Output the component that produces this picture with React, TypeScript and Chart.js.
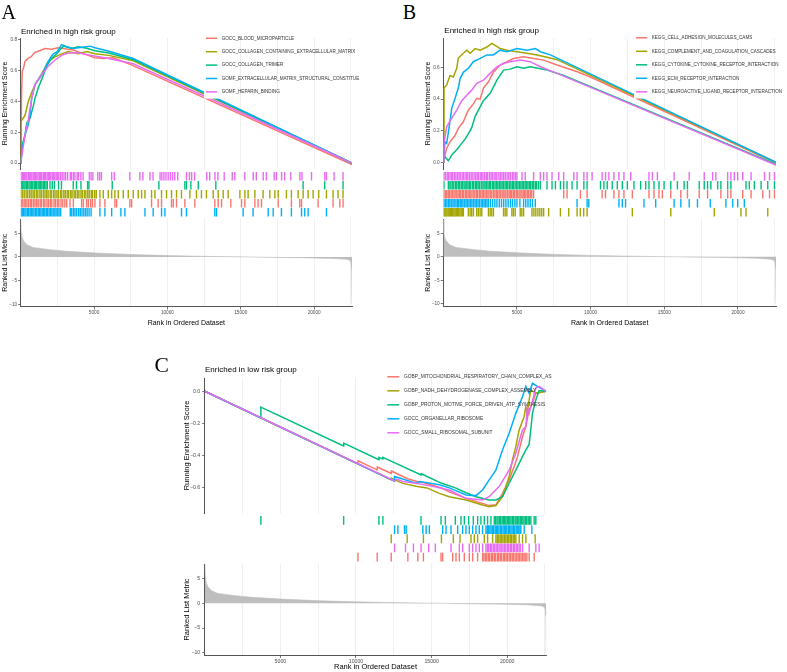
import React, { useEffect, useRef } from "react";
import { Chart, registerables } from "chart.js";

Chart.register(...registerables);

const SANS = '"Liberation Sans", Arial, Helvetica, sans-serif';
const SERIF = '"Liberation Serif", "Times New Roman", serif';

const RED = "#F8766D";
const OLIVE = "#A3A500";
const GREEN = "#00BF7D";
const BLUE = "#00B0F6";
const MAGENTA = "#E76BF3";

// ---------- shared axis values ----------
const RANK_MAX = 22580;
const X_GRID_BREAKS = [2500, 5000, 7500, 10000, 12500, 15000, 17500, 20000, 22500];
const X_TICK_BREAKS = [5000, 10000, 15000, 20000];
const X_TICK_LABELS = ["5000", "10000", "15000", "20000"];
const METRIC_TICKS = [-10, -5, 0, 5];
const ES_TICKS_A = [0, 0.2, 0.4, 0.6, 0.8];
const ES_TICKS_B = [0, 0.2, 0.4, 0.6];
const ES_TICKS_C = [-0.6, -0.4, -0.2, 0];

// ranked list metric (rank, metric)
const rankedMetric = [
  [1, 7.9], [40, 5.2], [100, 4.1], [200, 3.4], [420, 2.6], [860, 2.0], [2000, 1.55],
  [3130, 1.2], [5400, 0.8], [7670, 0.5], [9950, 0.3], [12210, 0.15], [14480, 0.05],
  [15800, 0], [16760, -0.07], [19030, -0.15], [21300, -0.3], [22200, -0.5],
  [22430, -0.7], [22520, -1.2], [22560, -2.5], [22580, -9.9],
];

// ---------- Panel A: enriched in high risk group (GO) ----------
const namesA = [
  "GOCC_BLOOD_MICROPARTICLE",
  "GOCC_COLLAGEN_CONTAINING_EXTRACELLULAR_MATRIX",
  "GOCC_COLLAGEN_TRIMER",
  "GOMF_EXTRACELLULAR_MATRIX_STRUCTURAL_CONSTITUE",
  "GOMF_HEPARIN_BINDING",
];

const esA_blood = [
  [1, 0], [60, 0.45], [110, 0.6], [200, 0.62], [290, 0.66], [500, 0.68], [700, 0.69],
  [975, 0.72], [1300, 0.73], [1655, 0.745], [2100, 0.74], [2540, 0.75], [2900, 0.745],
  [3220, 0.74], [3600, 0.735], [4175, 0.713], [4600, 0.7], [5060, 0.685], [5600, 0.68],
  [6300, 0.685], [7500, 0.64], [22580, -0.01],
];
const esA_collagenEcm = [
  [1, 0], [20, 0.27], [290, 0.31], [520, 0.4], [750, 0.46], [1090, 0.53], [1430, 0.58],
  [1880, 0.66], [2340, 0.69], [2790, 0.71], [3240, 0.725], [3920, 0.71], [4500, 0.725],
  [5060, 0.71], [6000, 0.7], [7670, 0.665], [22580, 0],
];
const esA_trimer = [
  [1, 0], [20, 0.01], [110, 0.12], [290, 0.18], [410, 0.26], [630, 0.29], [860, 0.37],
  [975, 0.42], [1200, 0.49], [1540, 0.57], [1770, 0.63], [2110, 0.68], [2450, 0.71],
  [2900, 0.76], [3470, 0.745], [3920, 0.756], [4500, 0.746], [5060, 0.73], [6000, 0.715],
  [7670, 0.672], [22580, 0],
];
const esA_ecmStruct = [
  [1, 0], [20, 0], [110, 0.1], [290, 0.18], [520, 0.25], [630, 0.31], [750, 0.42],
  [975, 0.51], [1200, 0.54], [1540, 0.59], [1770, 0.64], [2000, 0.68], [2220, 0.71],
  [2450, 0.72], [2790, 0.77], [3130, 0.757], [3580, 0.745], [3920, 0.75], [4720, 0.76],
  [5060, 0.75], [6080, 0.725], [7670, 0.68], [22580, 0],
];
const esA_heparin = [
  [1, 0], [290, 0.18], [520, 0.28], [630, 0.35], [750, 0.42], [975, 0.51], [1400, 0.57],
  [1880, 0.63], [2340, 0.67], [2790, 0.7], [3240, 0.715], [4000, 0.715], [4840, 0.7],
  [6000, 0.68], [7670, 0.645], [22580, 0],
];

const hitsA_blood = [
  25, 105, 230, 320, 430, 535, 660, 750, 870, 975, 1090, 1195, 1330, 1420, 1560, 1650,
  1790, 1890, 2020, 2120, 2270, 2370, 2500, 2600, 2750, 2870, 3010, 3140, 3360, 3590,
  4150, 4270, 4490, 4610, 4770, 4890, 5060, 5400, 5740, 6420, 6540, 7440, 7560, 8920,
  9370, 9600, 10280, 10400, 10620, 11190, 11870, 13230, 13460, 13690, 14320, 15050,
  15280, 15960, 16180, 16410, 17550, 18450, 19020, 19140, 20270, 21290, 21750, 21970,
];
const hitsA_collagenEcm = [
  15, 125, 240, 370, 480, 610, 715, 840, 945, 1075, 1170, 1310, 1405, 1540, 1655, 1770,
  1870, 2010, 2100, 2240, 2340, 2470, 2570, 2710, 2800, 2940, 3040, 3170, 3270, 3410,
  3500, 3640, 3740, 3870, 3970, 4110, 4200, 4340, 4440, 4570, 4670, 4810, 4900, 5040,
  5150, 5400, 5630, 5970, 6200, 6420, 6650, 6990, 7330, 7670, 8010, 8240, 8470, 8920,
  9150, 9600, 9940, 10280, 10620, 10960, 11530, 11980, 12320, 12660, 13120, 13460,
  13800, 14140, 14940, 15280, 15500, 15960, 16520, 16980, 17320, 17550, 18110, 18450,
  18910, 19250, 19590, 19930, 20310, 20840, 21290, 21630, 21970,
];
const hitsA_trimer = [
  30, 115, 215, 295, 385, 465, 565, 645, 745, 825, 925, 1005, 1085, 1185, 1265, 1365,
  1445, 1545, 1625, 1725, 1815, 2000, 2150, 2300, 2580, 2780, 3580, 3800, 4110, 4560,
  4650, 6240, 9420, 11190, 11300, 11600, 12100, 13300, 19250, 20720, 21970,
];
const hitsA_ecmStruct = [
  20, 105, 185, 285, 365, 465, 545, 645, 725, 825, 905, 1005, 1095, 1195, 1275, 1375,
  1465, 1565, 1645, 1745, 1835, 1935, 2025, 2125, 2215, 2325, 2415, 2525, 2615, 2725,
  3380, 3480, 3600, 3700, 3820, 3950, 4060, 4180, 4300, 4420, 4530, 4660, 4800, 5400,
  5740, 6200, 6830, 7100, 8470, 9030, 9600, 9830, 10960, 11300, 13230, 13350, 15160,
  15840, 16870, 17210, 17770, 18450, 19140, 19360, 19590, 20840,
];
const hitsA_heparin = [
  20, 110, 190, 260, 350, 420, 520, 600, 690, 760, 850, 930, 1010, 1100, 1180, 1270,
  1350, 1430, 1540, 1620, 1700, 1800, 1880, 1960, 2050, 2150, 2240, 2330, 2420, 2520,
  2600, 2720, 2830, 2950, 3060, 3200, 3380, 3470, 3600, 3700, 3850, 3950, 4100, 4250,
  4680, 4800, 4920, 5250, 5380, 5500, 6200, 6380, 7440, 8120, 8330, 8810, 9020, 9500,
  9620, 9760, 9900, 10050, 10200, 10350, 10500, 10700, 11300, 11500, 11650, 11850,
  12680, 12880, 13240, 13440, 13870, 14420, 14590, 15280, 15850, 16060, 16530, 16740,
  17280, 17430, 17780, 17990, 18410, 19030, 19170, 19820, 20730, 20840, 21360, 21970,
];

// ---------- Panel B: enriched in high risk group (KEGG) ----------
const namesB = [
  "KEGG_CELL_ADHESION_MOLECULES_CAMS",
  "KEGG_COMPLEMENT_AND_COAGULATION_CASCADES",
  "KEGG_CYTOKINE_CYTOKINE_RECEPTOR_INTERACTION",
  "KEGG_ECM_RECEPTOR_INTERACTION",
  "KEGG_NEUROACTIVE_LIGAND_RECEPTOR_INTERACTION",
];

const esB_cams = [
  [1, 0], [230, 0.09], [456, 0.13], [797, 0.17], [1020, 0.215], [1360, 0.257], [1700, 0.33],
  [2040, 0.37], [2270, 0.405], [2500, 0.4], [2725, 0.47], [3065, 0.51], [3400, 0.57],
  [3860, 0.616], [4320, 0.637], [4770, 0.658], [5450, 0.668], [6130, 0.658], [6810, 0.647],
  [7725, 0.616], [9090, 0.573], [9990, 0.54], [22580, -0.005],
];
const esB_complement = [
  [1, 0], [48, 0.47], [230, 0.49], [456, 0.55], [680, 0.54], [913, 0.595], [1020, 0.66],
  [1360, 0.69], [1590, 0.71], [1820, 0.69], [2160, 0.72], [2500, 0.71], [2956, 0.73],
  [3300, 0.753], [3520, 0.74], [3860, 0.72], [4320, 0.71], [5000, 0.7], [5680, 0.69],
  [6360, 0.68], [7040, 0.665], [7725, 0.65], [22580, 0],
];
const esB_cytokine = [
  [1, 0], [115, 0.035], [340, 0.01], [600, 0.05], [913, 0.08], [1250, 0.12], [1500, 0.15],
  [1700, 0.18], [1930, 0.22], [2160, 0.29], [2380, 0.33], [2725, 0.39], [3180, 0.437],
  [3640, 0.52], [4090, 0.584], [4540, 0.59], [5000, 0.605], [5450, 0.595], [5900, 0.605],
  [7040, 0.584], [8175, 0.55], [22580, -0.012],
];
const esB_ecm = [
  [1, 0], [115, 0.13], [230, 0.12], [456, 0.26], [572, 0.34], [797, 0.405], [1020, 0.47],
  [1140, 0.53], [1360, 0.57], [1700, 0.595], [2040, 0.637], [2500, 0.658], [2956, 0.68],
  [3400, 0.68], [3860, 0.71], [4320, 0.7], [5000, 0.72], [5680, 0.71], [6250, 0.72],
  [6590, 0.7], [7270, 0.68], [22580, 0],
];
const esB_neuro = [
  [1, 0], [48, 0.12], [230, 0.225], [572, 0.28], [913, 0.33], [1250, 0.39], [1590, 0.425],
  [1930, 0.457], [2270, 0.5], [2725, 0.52], [3180, 0.563], [3640, 0.605], [4090, 0.627],
  [4540, 0.637], [5225, 0.647], [5900, 0.637], [6590, 0.605], [7725, 0.563], [22580, -0.017],
];

const hitsB_cams = [
  45, 150, 235, 340, 425, 530, 615, 725, 805, 915, 1005, 1110, 1185, 1300, 1375, 1490,
  1575, 1680, 1765, 1870, 1955, 2070, 2145, 2260, 2335, 2450, 2545, 2640, 2735, 2830,
  2925, 3030, 3105, 3220, 3295, 3410, 3505, 3600, 3685, 3790, 3875, 3990, 4065, 4180,
  4255, 4370, 4465, 4560, 4645, 4750, 4835, 4950, 5025, 5140, 5215, 5330, 5425, 5520,
  5605, 5710, 5795, 5910, 6000, 6130, 8170, 8400, 9310, 9760, 10780, 11010, 11580,
  11920, 12260, 12830, 13960, 14300, 14640, 14870, 15440, 16120, 16570, 17370, 17935,
  18840, 19300, 19520, 20320, 20890, 21680, 22140, 22475,
];
const hitsB_complement = [
  47, 110, 180, 250, 330, 400, 480, 560, 640, 720, 800, 880, 960, 1040, 1130, 1210, 1290,
  1364, 1700, 1820, 1930, 2045, 2270, 2380, 2500, 2610, 3065, 3180, 3290, 3405, 4090,
  4200, 4315, 4655, 4760, 4880, 5220, 5330, 5450, 6020, 6150, 6280, 6420, 6550, 6680,
  6810, 7150, 7950, 8515, 9080, 9300, 9530, 9760, 12830, 15440, 18390, 20205, 20545, 22020,
];
const hitsB_cytokine = [
  47, 343, 450, 525, 645, 715, 835, 915, 1025, 1105, 1215, 1295, 1405, 1485, 1595, 1685,
  1785, 1865, 1985, 2055, 2175, 2255, 2355, 2445, 2565, 2635, 2755, 2835, 2935, 3035,
  3135, 3215, 3335, 3415, 3515, 3615, 3705, 3805, 3905, 3995, 4095, 4195, 4295, 4375,
  4485, 4585, 4685, 4765, 4875, 4975, 5065, 5165, 5265, 5355, 5455, 5555, 5645, 5745,
  5845, 5935, 6045, 6125, 6245, 6325, 6455, 6585, 7040, 7380, 7610, 7950, 8170, 8400,
  8740, 9080, 9540, 9760, 10670, 10900, 11125, 11465, 11810, 12150, 12490, 12940, 13395,
  13735, 13960, 14300, 14640, 14985, 15440, 15890, 16345, 16570, 17370, 17710, 17935,
  18160, 18620, 18840, 19300, 19520, 20545, 20770, 21110, 21570, 22020, 22475,
];
const hitsB_ecm = [
  47, 150, 245, 350, 445, 540, 655, 740, 855, 950, 1045, 1150, 1255, 1340, 1455, 1550,
  1655, 1750, 1855, 1945, 2050, 2155, 2250, 2355, 2450, 2565, 2660, 2765, 2860, 2965,
  3060, 3200, 3350, 3500, 3640, 3800, 3950, 4100, 4250, 4400, 4560, 4700, 4860, 5000,
  5200, 5450, 5600, 5750, 5900, 6050, 6245, 9080, 9760, 9875, 11920, 12150, 12370,
  13620, 14415, 15665, 16120, 16690, 17250, 18120, 19180, 19640, 19980, 20430,
];
const hitsB_neuro = [
  47, 150, 265, 340, 455, 560, 645, 760, 855, 960, 1065, 1150, 1275, 1360, 1475, 1580,
  1665, 1770, 1885, 1960, 2085, 2190, 2295, 2380, 2505, 2610, 2695, 2810, 2925, 3010,
  3135, 3240, 3335, 3450, 3565, 3640, 3775, 3880, 3985, 4100, 4205, 4330, 4445, 4550,
  4685, 4790, 4905, 5000, 5340, 5560, 6130, 6585, 6810, 7040, 7380, 7830, 8170, 8855,
  9080, 9540, 9760, 10100, 10780, 11010, 11240, 11580, 11920, 12260, 12720, 13960,
  14190, 14530, 15665, 16690, 17710, 18280, 18500, 19300, 19520, 19750, 19980, 20320,
  20890, 21800, 22140, 22475,
];

// ---------- Panel C: enriched in low risk group ----------
const namesC = [
  "GOBP_MITOCHONDRIAL_RESPIRATORY_CHAIN_COMPLEX_ASSEMBLY",
  "GOBP_NADH_DEHYDROGENASE_COMPLEX_ASSEMBLY",
  "GOBP_PROTON_MOTIVE_FORCE_DRIVEN_ATP_SYNTHESIS",
  "GOCC_ORGANELLAR_RIBOSOME",
  "GOCC_SMALL_RIBOSOMAL_SUBUNIT",
];

const esC_mito = [
  [1, 0], [10130, -0.451], [10140, -0.432], [11400, -0.488], [11410, -0.47], [12330, -0.51],
  [12340, -0.495], [13420, -0.543], [14080, -0.562], [14460, -0.567], [15630, -0.6],
  [16170, -0.625], [17280, -0.665], [18370, -0.696], [18810, -0.71], [19250, -0.705],
  [19690, -0.634], [20130, -0.55], [20460, -0.468], [20680, -0.406], [21010, -0.282],
  [21230, -0.22], [21450, -0.116], [21670, -0.075], [21890, -0.012], [22580, 0],
];
const esC_nadh = [
  [1, 0], [12330, -0.549], [12340, -0.54], [13090, -0.572], [13980, -0.59], [14700, -0.6],
  [15510, -0.634], [16170, -0.655], [17280, -0.675], [18370, -0.706], [18810, -0.717],
  [19250, -0.71], [19690, -0.655], [20130, -0.53], [20350, -0.427], [20570, -0.344],
  [20790, -0.24], [21120, -0.158], [21230, -0.096], [21340, -0.137], [21450, -0.054],
  [21560, 0.008], [21890, -0.012], [22580, 0],
];
const esC_proton = [
  [1, 0], [3700, -0.165], [3710, -0.098], [9180, -0.34], [9190, -0.322], [11510, -0.425],
  [11520, -0.41], [11770, -0.42], [11780, -0.41], [14310, -0.52], [14320, -0.512],
  [15630, -0.57], [15960, -0.58], [16570, -0.6], [17280, -0.63], [17930, -0.655],
  [18810, -0.675], [19250, -0.675], [19690, -0.655], [20130, -0.571], [20570, -0.49],
  [21010, -0.406], [21230, -0.365], [21450, -0.33], [21560, -0.24], [21670, -0.137],
  [21890, -0.054], [22110, 0.005], [22580, 0],
];
const esC_organellar = [
  [1, 0], [12550, -0.558], [12560, -0.53], [13090, -0.545], [13980, -0.572], [14200, -0.56],
  [15510, -0.58], [16170, -0.6], [17280, -0.644], [17930, -0.648], [18370, -0.613],
  [18810, -0.55], [19250, -0.49], [19690, -0.365], [20130, -0.26], [20570, -0.137],
  [21010, -0.034], [21230, 0.03], [21450, -0.012], [21670, 0.05], [22000, 0.03], [22580, 0],
];
const esC_smallRibo = [
  [1, 0], [12550, -0.557], [12700, -0.545], [13090, -0.56], [13980, -0.572], [15070, -0.59],
  [16170, -0.613], [17280, -0.665], [18370, -0.675], [18810, -0.655], [19480, -0.59],
  [20130, -0.49], [20570, -0.385], [21010, -0.24], [21230, -0.22], [21340, -0.096],
  [21450, -0.137], [21560, -0.1], [21890, 0.02], [22110, 0.03], [22580, 0],
];

const hitsC_mito = [
  10130, 11405, 12330, 13430, 14090, 14460, 15625, 15735, 16395, 16615, 16835, 17165,
  17495, 17715, 18045, 18375, 18460, 18560, 18650, 18760, 18840, 18950, 19040, 19150,
  19230, 19350, 19430, 19540, 19620, 19740, 19830, 19930, 20020, 20130, 20220, 20330,
  20410, 20520, 20610, 20720, 20800, 20910, 21000, 21110, 21190, 21300, 21455, 21785,
];
const hitsC_nadh = [
  12330, 13385, 14460, 15650, 16440, 16880, 17605, 17825, 18045, 18485, 18705, 19035,
  19255, 19345, 19445, 19535, 19635, 19725, 19825, 19915, 20015, 20105, 20205, 20295,
  20395, 20485, 20575, 20795, 21015, 21235, 21850,
];
const hitsC_proton = [
  3710, 9185, 11515, 11780, 14300, 15625, 15910, 16570, 16945, 17165, 17450, 17760, 18045,
  18265, 18485, 18705, 18925, 19145, 19225, 19325, 19395, 19495, 19565, 19665, 19745,
  19835, 19915, 20005, 20085, 20175, 20255, 20355, 20425, 20525, 20595, 20695, 20775,
  20865, 20945, 21035, 21115, 21215, 21285, 21385, 21465, 21565, 21785, 21895,
];
const hitsC_organellar = [
  12550, 12770, 13210, 13320, 14420, 14640, 14855, 15735, 15955, 16285, 16725, 17055,
  17275, 17495, 17715, 17935, 18155, 18375, 18595, 18685, 18765, 18855, 18935, 19035,
  19105, 19205, 19285, 19375, 19455, 19555, 19625, 19725, 19805, 19895, 19975, 20075,
  20145, 20245, 20325, 20415, 20495, 20595, 20665, 20765, 20845, 20905, 21125, 21630,
];
const hitsC_smallRibo = [
  12550, 13275, 13800, 14305, 14810, 15250, 16285, 16835, 17055, 17495, 17715, 17935,
  18155, 18375, 18595, 18695, 18775, 18885, 18965, 19075, 19155, 19265, 19345, 19455,
  19535, 19645, 19725, 19835, 19915, 20025, 20105, 20215, 20295, 20405, 20485, 20595,
  20675, 20785, 20865, 21015, 21455, 21895, 22115,
];

// ---------- panel assembly ----------
// row: rug row counted from the bottom (0) to the top (4)
interface GeneSet { name: string; color: string; es: number[][]; hits: number[]; row: number; }

interface PanelSpec {
  key: string; letter: string; title: string;
  left: number; top: number; width: number; height: number;
  yAxisWidth: number; chartTop: number; chartRight: number; xAxisHeight: number;
  esHeight: number; rugHeight: number; metricHeight: number;
  esMin: number; esMax: number; esTicks: number[]; metricMin: number; metricMax: number;
  tickFont: number; axisTitleFont: number; legendFont: number;
  yTitlePad: number; xTitlePad: number; xTickPad: number; yTickPad: number; rugHalf: number;
  legend: { boxX0: number; boxX1: number; keyX0: number; keyX1: number; textX: number; y0: number; dy: number };
  letterLeft: number; letterTop: number; letterSize: number; titleLeft: number; titleTop: number;
  sets: GeneSet[];
}

const panelA: PanelSpec = {
  key: "A", letter: "A", title: "Enriched in high risk group",
  left: 0, top: 0, width: 395, height: 330,
  yAxisWidth: 20.7, chartTop: 38, chartRight: 352, xAxisHeight: 22,
  esHeight: 131, rugHeight: 50, metricHeight: 87.5,
  esMin: -0.039, esMax: 0.813, esTicks: ES_TICKS_A, metricMin: -10.47, metricMax: 8.03,
  tickFont: 4.7, axisTitleFont: 7, legendFont: 4.6,
  yTitlePad: 1.5, xTitlePad: 1.5, xTickPad: 0.5, yTickPad: 1, rugHalf: 4.3,
  legend: { boxX0: 204, boxX1: 219.5, keyX0: 206, keyX1: 217.3, textX: 221.7, y0: 38.3, dy: 13.4 },
  letterLeft: 1.5, letterTop: 1.5, letterSize: 20, titleLeft: 21, titleTop: 27.5,
  sets: [
    { name: namesA[0], color: RED, es: esA_blood, hits: hitsA_blood, row: 1 },
    { name: namesA[1], color: OLIVE, es: esA_collagenEcm, hits: hitsA_collagenEcm, row: 2 },
    { name: namesA[2], color: GREEN, es: esA_trimer, hits: hitsA_trimer, row: 3 },
    { name: namesA[3], color: BLUE, es: esA_ecmStruct, hits: hitsA_ecmStruct, row: 0 },
    { name: namesA[4], color: MAGENTA, es: esA_heparin, hits: hitsA_heparin, row: 4 },
  ],
};

const panelB: PanelSpec = {
  key: "B", letter: "B", title: "Enriched in high risk group",
  left: 422, top: 0, width: 365, height: 330,
  yAxisWidth: 21.3, chartTop: 38, chartRight: 354, xAxisHeight: 22,
  esHeight: 131, rugHeight: 50, metricHeight: 87.5,
  esMin: -0.042, esMax: 0.787, esTicks: ES_TICKS_B, metricMin: -10.6, metricMax: 8.06,
  tickFont: 4.7, axisTitleFont: 7, legendFont: 4.6,
  yTitlePad: 2.5, xTitlePad: 1.5, xTickPad: 0.5, yTickPad: 1, rugHalf: 4.3,
  legend: { boxX0: 212, boxX1: 227.5, keyX0: 214, keyX1: 225.3, textX: 229.7, y0: 37.8, dy: 13.5 },
  letterLeft: 402.7, letterTop: 1.5, letterSize: 20, titleLeft: 444.3, titleTop: 27,
  sets: [
    { name: namesB[0], color: RED, es: esB_cams, hits: hitsB_cams, row: 2 },
    { name: namesB[1], color: OLIVE, es: esB_complement, hits: hitsB_complement, row: 0 },
    { name: namesB[2], color: GREEN, es: esB_cytokine, hits: hitsB_cytokine, row: 3 },
    { name: namesB[3], color: BLUE, es: esB_ecm, hits: hitsB_ecm, row: 1 },
    { name: namesB[4], color: MAGENTA, es: esB_neuro, hits: hitsB_neuro, row: 4 },
  ],
};

const panelC: PanelSpec = {
  key: "C", letter: "C", title: "Enriched in low risk group",
  left: 150, top: 340, width: 402, height: 332,
  yAxisWidth: 54.8, chartTop: 38, chartRight: 396.7, xAxisHeight: 17,
  esHeight: 135, rugHeight: 51, metricHeight: 91,
  esMin: -0.756, esMax: 0.0826, esTicks: ES_TICKS_C, metricMin: -10.44, metricMax: 7.94,
  tickFont: 5.2, axisTitleFont: 7.5, legendFont: 4.85,
  yTitlePad: 33, xTitlePad: 1.25, xTickPad: 0, yTickPad: 2, rugHalf: 4.4,
  legend: { boxX0: 235.5, boxX1: 251, keyX0: 237.3, keyX1: 249.3, textX: 254, y0: 36.8, dy: 14 },
  letterLeft: 154.4, letterTop: 355, letterSize: 21.5, titleLeft: 205, titleTop: 365.5,
  sets: [
    { name: namesC[0], color: RED, es: esC_mito, hits: hitsC_mito, row: 0 },
    { name: namesC[1], color: OLIVE, es: esC_nadh, hits: hitsC_nadh, row: 2 },
    { name: namesC[2], color: GREEN, es: esC_proton, hits: hitsC_proton, row: 4 },
    { name: namesC[3], color: BLUE, es: esC_organellar, hits: hitsC_organellar, row: 3 },
    { name: namesC[4], color: MAGENTA, es: esC_smallRibo, hits: hitsC_smallRibo, row: 1 },
  ],
};

const PANELS = [panelA, panelB, panelC];

const AXIS_COLOR = "#555555";
const TICK_TEXT = "#4D4D4D";
const GRID_COLOR = "#EBEBEB";

function signed(v: number, digits: number) {
  const s = Math.abs(v).toFixed(digits);
  return v < -1e-9 ? "\u2212" + s : s;
}

function buildConfig(p: PanelSpec) {
  const datasets: any[] = [];
  p.sets.forEach((s, i) => {
    datasets.push({
      type: "line",
      label: s.name,
      data: s.es.map(([x, y]) => ({ x, y })),
      xAxisID: "x",
      yAxisID: "es",
      borderColor: s.color,
      backgroundColor: s.color,
      borderWidth: 1.5,
      pointRadius: 0,
      fill: false,
      tension: 0,
      order: 10 - i,
    });
  });
  p.sets.forEach((s) => {
    datasets.push({
      type: "scatter",
      label: s.name + " hits",
      data: s.hits.map((x) => ({ x, y: s.row + 0.5 })),
      xAxisID: "x",
      yAxisID: "rug",
      showLine: false,
      pointStyle: "line",
      pointRotation: 90,
      pointRadius: p.rugHalf,
      pointBorderWidth: 1.4,
      pointBorderColor: s.color,
      borderColor: s.color,
      backgroundColor: s.color,
      order: 20,
    });
  });
  datasets.push({
    type: "line",
    label: "Ranked list metric",
    data: rankedMetric.map(([x, y]) => ({ x, y })),
    xAxisID: "x",
    yAxisID: "metric",
    borderColor: "#BEBEBE",
    backgroundColor: "#BEBEBE",
    borderWidth: 0.6,
    pointRadius: 0,
    fill: "origin",
    tension: 0,
    order: 30,
  });

  const chartBottom = p.chartTop + p.esHeight + p.rugHeight + p.metricHeight;
  const tickFont = { family: SANS, size: p.tickFont };
  const titleFont = { family: SANS, size: p.axisTitleFont, lineHeight: 1 };

  const yCommon = (weight: number, stackWeight: number) => ({
    type: "linear",
    axis: "y",
    position: "left",
    stack: "gsea",
    stackWeight,
    weight,
    afterFit: (s: any) => { s.width = p.yAxisWidth; },
  });

  // the rug strip carries no grid lines
  const rugBackdrop = {
    id: "rugBackdrop",
    beforeDatasetsDraw(chart: any) {
      const r = chart.scales.rug;
      const a = chart.chartArea;
      const ctx = chart.ctx;
      ctx.save();
      ctx.fillStyle = "#FFFFFF";
      ctx.fillRect(a.left + 0.6, r.top + 0.5, a.right - a.left + 1, r.bottom - r.top - 1);
      ctx.restore();
    },
  };

  const legendPlugin = {
    id: "gseaLegend",
    afterDatasetsDraw(chart: any) {
      const ctx = chart.ctx;
      const L = p.legend;
      ctx.save();
      p.sets.forEach((s, i) => {
        const y = L.y0 + i * L.dy;
        ctx.fillStyle = "#FFFFFF";
        ctx.fillRect(L.boxX0, y - L.dy / 2, L.boxX1 - L.boxX0, L.dy);
        ctx.strokeStyle = s.color;
        ctx.lineWidth = 1.5;
        ctx.beginPath();
        ctx.moveTo(L.keyX0, y);
        ctx.lineTo(L.keyX1, y);
        ctx.stroke();
        ctx.fillStyle = "#333333";
        ctx.font = `${p.legendFont}px ${SANS}`;
        ctx.textAlign = "left";
        ctx.textBaseline = "middle";
        ctx.fillText(s.name, L.textX, y);
      });
      ctx.restore();
    },
  };

  return {
    type: "line",
    data: { datasets },
    plugins: [rugBackdrop, legendPlugin],
    options: {
      responsive: false,
      devicePixelRatio: 1,
      animation: false,
      events: [],
      layout: {
        padding: {
          left: 0,
          top: p.chartTop,
          right: p.width - p.chartRight,
          bottom: p.height - chartBottom - p.xAxisHeight,
        },
      },
      plugins: {
        legend: { display: false },
        tooltip: { enabled: false },
        title: { display: false },
      },
      scales: {
        x: {
          type: "linear",
          position: "bottom",
          min: 1,
          max: RANK_MAX,
          afterBuildTicks: (s: any) => { s.ticks = X_GRID_BREAKS.map((v) => ({ value: v })); },
          afterFit: (s: any) => { s.height = p.xAxisHeight; },
          ticks: {
            autoSkip: false,
            maxRotation: 0,
            padding: p.xTickPad,
            color: TICK_TEXT,
            font: tickFont,
            callback: (v: number) => {
              const k = X_TICK_BREAKS.indexOf(v);
              return k >= 0 ? X_TICK_LABELS[k] : "";
            },
          },
          grid: {
            color: GRID_COLOR,
            lineWidth: 0.8,
            drawTicks: true,
            tickLength: 3,
            tickWidth: 0.8,
            tickColor: (c: any) => (c.tick && X_TICK_BREAKS.includes(c.tick.value) ? AXIS_COLOR : "rgba(0,0,0,0)"),
          },
          border: { display: true, color: AXIS_COLOR, width: 1 },
          title: {
            display: true,
            text: "Rank in Ordered Dataset",
            color: "#000000",
            font: titleFont,
            padding: { top: 0, bottom: p.xTitlePad },
          },
        },
        es: {
          ...yCommon(3, p.esHeight),
          min: p.esMin,
          max: p.esMax,
          afterBuildTicks: (s: any) => { s.ticks = p.esTicks.map((v) => ({ value: v })); },
          ticks: { color: TICK_TEXT, font: tickFont, padding: p.yTickPad, callback: (v: number) => signed(v, 1) },
          grid: { drawOnChartArea: false, drawTicks: true, tickLength: 2.6, tickWidth: 0.8, tickColor: AXIS_COLOR },
          border: { display: true, color: AXIS_COLOR, width: 1 },
          title: {
            display: true,
            text: "Running Enrichment Score",
            color: "#000000",
            font: titleFont,
            padding: { top: p.yTitlePad, bottom: 0 },
          },
        },
        rug: {
          ...yCommon(2, p.rugHeight),
          min: -0.25,
          max: 5.3,
          ticks: { display: false },
          grid: { display: false },
          border: { display: false },
        },
        metric: {
          ...yCommon(1, p.metricHeight),
          min: p.metricMin,
          max: p.metricMax,
          afterBuildTicks: (s: any) => { s.ticks = METRIC_TICKS.map((v) => ({ value: v })); },
          ticks: { color: TICK_TEXT, font: tickFont, padding: p.yTickPad, callback: (v: number) => signed(v, 0) },
          grid: { drawOnChartArea: false, drawTicks: true, tickLength: 2.6, tickWidth: 0.8, tickColor: AXIS_COLOR },
          border: { display: true, color: AXIS_COLOR, width: 1 },
          title: {
            display: true,
            text: "Ranked List Metric",
            color: "#000000",
            font: titleFont,
            padding: { top: p.yTitlePad, bottom: 0 },
          },
        },
      },
    },
  };
}

function GseaPanel({ spec }: { spec: PanelSpec }) {
  const canvasRef = useRef<HTMLCanvasElement | null>(null);

  useEffect(() => {
    const canvas = canvasRef.current;
    if (!canvas) return;
    const chart = new Chart(canvas, buildConfig(spec) as any);
    return () => chart.destroy();
  }, [spec]);

  return (
    <>
      <canvas
        ref={canvasRef}
        width={spec.width}
        height={spec.height}
        style={{ position: "absolute", left: spec.left, top: spec.top, width: spec.width, height: spec.height }}
      />
      <div
        style={{
          position: "absolute",
          left: spec.letterLeft,
          top: spec.letterTop,
          fontFamily: SERIF,
          fontSize: spec.letterSize,
          lineHeight: `${spec.letterSize}px`,
          color: "#000",
          whiteSpace: "nowrap",
        }}
      >
        {spec.letter}
      </div>
      <div
        style={{
          position: "absolute",
          left: spec.titleLeft,
          top: spec.titleTop,
          fontFamily: SANS,
          fontSize: 8,
          lineHeight: "8px",
          color: "#000",
          whiteSpace: "nowrap",
        }}
      >
        {spec.title}
      </div>
    </>
  );
}

export default function App() {
  return (
    <div
      style={{
        position: "absolute",
        left: 0,
        top: 0,
        width: 787,
        height: 672,
        background: "#FFFFFF",
        overflow: "hidden",
      }}
    >
      {PANELS.map((p) => (
        <GseaPanel key={p.key} spec={p} />
      ))}
    </div>
  );
}
